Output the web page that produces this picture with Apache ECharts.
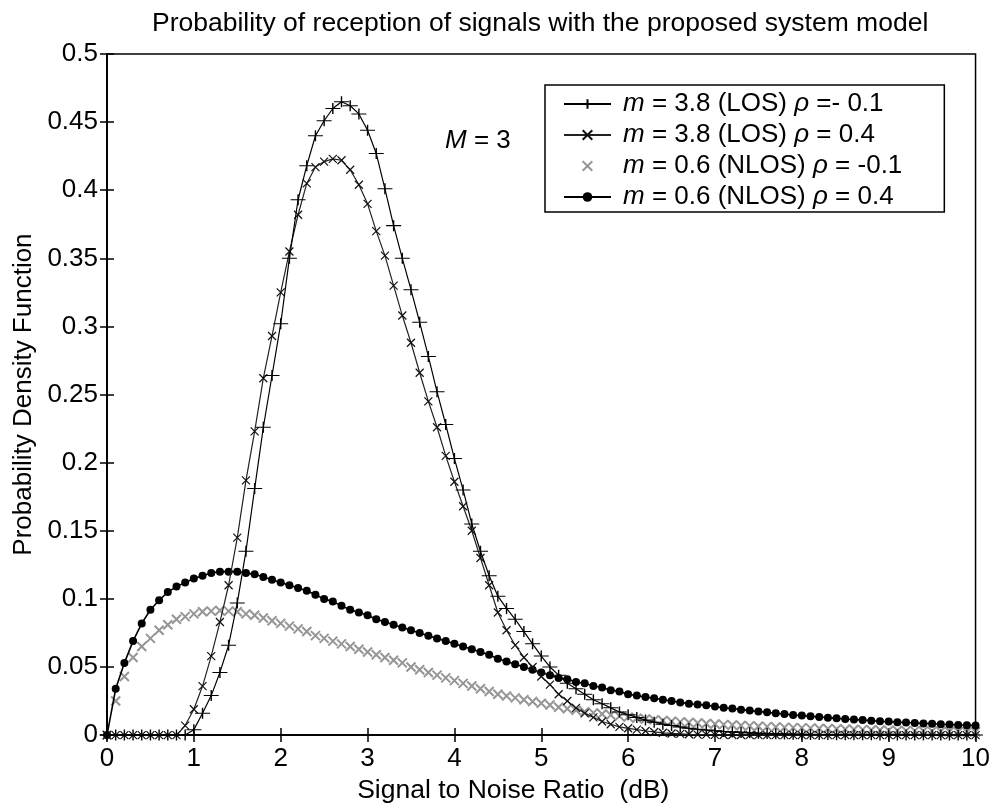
<!DOCTYPE html>
<html>
<head>
<meta charset="utf-8">
<script src="https://cdn.jsdelivr.net/npm/echarts@6/dist/echarts.min.js"></script>
<style>
html,body{margin:0;padding:0;background:#fff;}
#chart{width:993px;height:809px;}
</style>
</head>
<body>
<div id="chart"></div>
<script>
// x grid (dB)
const snrDb = [0,0.1,0.2,0.3,0.4,0.5,0.6,0.7,0.8,0.9,
1,1.1,1.2,1.3,1.4,1.5,1.6,1.7,1.8,1.9,
2,2.1,2.2,2.3,2.4,2.5,2.6,2.7,2.8,2.9,
3,3.1,3.2,3.3,3.4,3.5,3.6,3.7,3.8,3.9,
4,4.1,4.2,4.3,4.4,4.5,4.6,4.7,4.8,4.9,
5,5.1,5.2,5.3,5.4,5.5,5.6,5.7,5.8,5.9,
6,6.1,6.2,6.3,6.4,6.5,6.6,6.7,6.8,6.9,
7,7.1,7.2,7.3,7.4,7.5,7.6,7.7,7.8,7.9,
8,8.1,8.2,8.3,8.4,8.5,8.6,8.7,8.8,8.9,
9,9.1,9.2,9.3,9.4,9.5,9.6,9.7,9.8,9.9,10];

// m = 3.8 (LOS) rho = -0.1
const losRhoNeg = [0,0,0,0,0,0,0,0,0,0,
0.004,0.016,0.029,0.046,0.066,0.097,0.135,0.181,0.226,0.264,
0.302,0.350,0.393,0.418,0.440,0.451,0.460,0.465,0.462,0.456,
0.444,0.427,0.401,0.374,0.350,0.327,0.303,0.278,0.252,0.228,
0.203,0.180,0.155,0.135,0.117,0.102,0.093,0.085,0.076,0.067,
0.058,0.050,0.044,0.038,0.034,0.030,0.026,0.023,0.020,0.017,
0.015,0.013,0.011,0.0095,0.008,0.007,0.006,0.005,0.0043,0.0037,
0.0032,0.0027,0.0023,0.0020,0.0017,0.0014,0.0012,0.0010,0.0008,0.0007,
0.0006,0.0005,0.0004,0.0004,0.0003,0.0003,0.0002,0.0002,0.0002,0.0001,
0.0001,0.0001,0.0001,0.0001,0,0,0,0,0,0,0];

// m = 3.8 (LOS) rho = 0.4
const losRhoPos = [0,0,0,0,0,0,0,0,0,0.007,
0.019,0.036,0.058,0.083,0.110,0.145,0.187,0.223,0.262,0.293,
0.325,0.355,0.382,0.405,0.417,0.421,0.423,0.422,0.415,0.404,
0.390,0.370,0.352,0.330,0.308,0.288,0.266,0.245,0.226,0.205,
0.186,0.168,0.150,0.130,0.110,0.090,0.077,0.066,0.057,0.050,
0.043,0.037,0.030,0.025,0.020,0.016,0.013,0.010,0.008,0.006,
0.005,0.004,0.003,0.0023,0.0017,0.0012,0.0009,0.0006,0.0004,0.0003,
0.0002,0.0001,0.0001,0.0001,0,0,0,0,0,0,
0,0,0,0,0,0,0,0,0,0,
0,0,0,0,0,0,0,0,0,0,0];

// m = 0.6 (NLOS) rho = -0.1
const nlosRhoNeg = [0,0.025,0.043,0.057,0.065,0.071,0.077,0.081,0.085,0.087,
0.089,0.0905,0.091,0.0915,0.091,0.0905,0.089,0.088,0.086,0.084,
0.082,0.080,0.078,0.076,0.073,0.071,0.069,0.067,0.065,0.063,
0.061,0.059,0.057,0.055,0.053,0.050,0.048,0.046,0.044,0.042,
0.040,0.038,0.036,0.034,0.032,0.030,0.0287,0.0273,0.026,0.0247,
0.0234,0.0221,0.0205,0.0193,0.0182,0.0172,0.0163,0.0155,0.0147,0.0139,
0.0132,0.0124,0.0118,0.0112,0.0107,0.0102,0.0097,0.0093,0.0089,0.0085,
0.0081,0.0077,0.0074,0.0071,0.0068,0.0065,0.0062,0.0060,0.0057,0.0055,
0.0053,0.0051,0.0049,0.0047,0.0045,0.0043,0.0041,0.0040,0.0038,0.0037,
0.0035,0.0034,0.0032,0.0031,0.0030,0.0029,0.0028,0.0027,0.0026,0.0025,0.0024];

// m = 0.6 (NLOS) rho = 0.4
const nlosRhoPos = [0,0.034,0.053,0.069,0.082,0.092,0.099,0.105,0.109,0.112,
0.115,0.117,0.119,0.120,0.120,0.120,0.119,0.118,0.116,0.114,
0.112,0.110,0.108,0.106,0.103,0.100,0.098,0.095,0.092,0.090,
0.088,0.085,0.083,0.081,0.079,0.077,0.075,0.073,0.071,0.069,
0.067,0.065,0.063,0.061,0.059,0.056,0.054,0.052,0.050,0.048,
0.046,0.044,0.042,0.041,0.039,0.038,0.036,0.035,0.033,0.032,
0.030,0.029,0.028,0.027,0.026,0.025,0.024,0.023,0.0225,0.022,
0.021,0.020,0.0195,0.0187,0.018,0.0173,0.0167,0.016,0.0154,0.0148,
0.0143,0.0138,0.0133,0.0128,0.0123,0.0118,0.0114,0.0110,0.0106,0.0102,
0.0099,0.0095,0.0092,0.0089,0.0086,0.0083,0.0080,0.0078,0.0075,0.0073,0.0071];

const seriesNames = [
  'm = 3.8 (LOS) ρ =- 0.1',
  'm = 3.8 (LOS) ρ = 0.4',
  'm = 0.6 (NLOS) ρ = -0.1',
  'm = 0.6 (NLOS) ρ = 0.4'
];
const legendRich = {
  'm = 3.8 (LOS) ρ =- 0.1': '{sp|}{i|m} = 3.8 (LOS) {i|ρ} =- 0.1',
  'm = 3.8 (LOS) ρ = 0.4': '{sp|}{i|m} = 3.8 (LOS) {i|ρ} = 0.4',
  'm = 0.6 (NLOS) ρ = -0.1': '{sp|}{i|m} = 0.6 (NLOS) {i|ρ} = -0.1',
  'm = 0.6 (NLOS) ρ = 0.4': '{sp|}{i|m} = 0.6 (NLOS) {i|ρ} = 0.4'
};
const titleText = 'Probability of reception of signals with the proposed system model';
const xName = 'Signal to Noise Ratio  (dB)';
const yName = 'Probability Density Function';

const FONT = 'Liberation Sans, Arial, Helvetica, sans-serif';
const FS = 26;
const PLUS = 'path://M0,5L10,5M5,0L5,10';
const CROSS = 'path://M0,0L10,10M10,0L0,10';

function pairs(ys){ return snrDb.map((x,i)=>[x, ys[i]]); }

const chart = echarts.init(document.getElementById('chart'), null, {renderer:'canvas'});
const axisFont = {fontFamily: FONT, fontSize: FS, color: '#000'};

chart.setOption({
  animation: false,
  backgroundColor: '#fff',
  title: {
    text: titleText, left: 147, top: 5,
    textStyle: {fontFamily: FONT, fontSize: 26.5, fontWeight: 'normal', color: '#000'}
  },
  grid: {left: 107, right: 16, top: 54, bottom: 72, show: true, borderColor: '#000', borderWidth: 1.5},
  legend: {
    orient: 'vertical', left: 545, top: 85,
    data: seriesNames,
    itemWidth: 47, itemHeight: 12, itemGap: 5,
    padding: [6, 42, 2, 18],
    borderColor: '#000', borderWidth: 1.5, backgroundColor: '#fff',
    formatter: n => legendRich[n],
    textStyle: {fontFamily: FONT, fontSize: FS, color: '#000',
      rich: {
        i: {fontFamily: FONT, fontSize: FS, fontStyle: 'italic', color: '#000'},
        sp: {width: 7}
      }}
  },
  xAxis: [{
    type: 'value', min: 0, max: 10, interval: 1,
    name: xName, nameLocation: 'middle', nameGap: 29,
    nameTextStyle: {fontFamily: FONT, fontSize: 26.5, color: '#000', padding: [0, 56, 0, 0]},
    axisLine: {lineStyle: {color: '#000', width: 1.5}},
    axisTick: {inside: true, length: 7, lineStyle: {color: '#000', width: 1.5}},
    axisLabel: Object.assign({margin: 11}, axisFont),
    splitLine: {show: false}
  }, {
    type: 'value', min: 0, max: 10, interval: 1, position: 'top',
    axisLine: {lineStyle: {color: '#000', width: 1.5}},
    axisTick: {inside: true, length: 7, lineStyle: {color: '#000', width: 1.5}},
    axisLabel: {show: false}, splitLine: {show: false}
  }],
  yAxis: [{
    type: 'value', min: 0, max: 0.5, interval: 0.05,
    name: yName, nameLocation: 'middle', nameGap: 70,
    nameTextStyle: {fontFamily: FONT, fontSize: FS, color: '#000'},
    axisLine: {lineStyle: {color: '#000', width: 1.5}},
    axisTick: {inside: true, length: 7, lineStyle: {color: '#000', width: 1.5}},
    axisLabel: Object.assign({margin: 9}, axisFont),
    splitLine: {show: false}
  }, {
    type: 'value', min: 0, max: 0.5, interval: 0.05, position: 'right',
    axisLine: {show: true, lineStyle: {color: '#000', width: 1.5}},
    axisTick: {show: true, inside: true, length: 7, lineStyle: {color: '#000', width: 1.5}},
    axisLabel: {show: false}, splitLine: {show: false}
  }],
  graphic: [{
    type: 'text', left: 445, top: 128,
    style: {
      text: '{i|M} = 3', fill: '#000', font: FS + 'px ' + FONT,
      rich: {i: {fontStyle: 'italic', fontFamily: FONT, fontSize: FS, fill: '#000'}}
    }
  }],
  series: [
    {
      name: seriesNames[2], type: 'line', data: pairs(nlosRhoNeg), z: 2,
      symbol: CROSS, symbolSize: 9, showSymbol: true, showAllSymbol: true,
      lineStyle: {width: 0, color: '#999'},
      itemStyle: {color: 'rgba(0,0,0,0)', borderColor: '#959595', borderWidth: 2}
    },
    {
      name: seriesNames[3], type: 'line', data: pairs(nlosRhoPos), z: 3,
      symbol: 'circle', symbolSize: 8, showSymbol: true, showAllSymbol: true,
      lineStyle: {width: 1.6, color: '#000'},
      itemStyle: {color: '#000', borderColor: '#000', borderWidth: 0}
    },
    {
      name: seriesNames[1], type: 'line', data: pairs(losRhoPos), z: 4,
      symbol: CROSS, symbolSize: 8, showSymbol: true, showAllSymbol: true,
      lineStyle: {width: 1.2, color: '#222'},
      itemStyle: {color: 'rgba(0,0,0,0)', borderColor: '#111', borderWidth: 1.2}
    },
    {
      name: seriesNames[0], type: 'line', data: pairs(losRhoNeg), z: 5,
      symbol: PLUS, symbolSize: [15, 11], showSymbol: true, showAllSymbol: true,
      lineStyle: {width: 1.2, color: '#000'},
      itemStyle: {color: 'rgba(0,0,0,0)', borderColor: '#000', borderWidth: 1.2}
    }
  ]
});
</script>
</body>
</html>
